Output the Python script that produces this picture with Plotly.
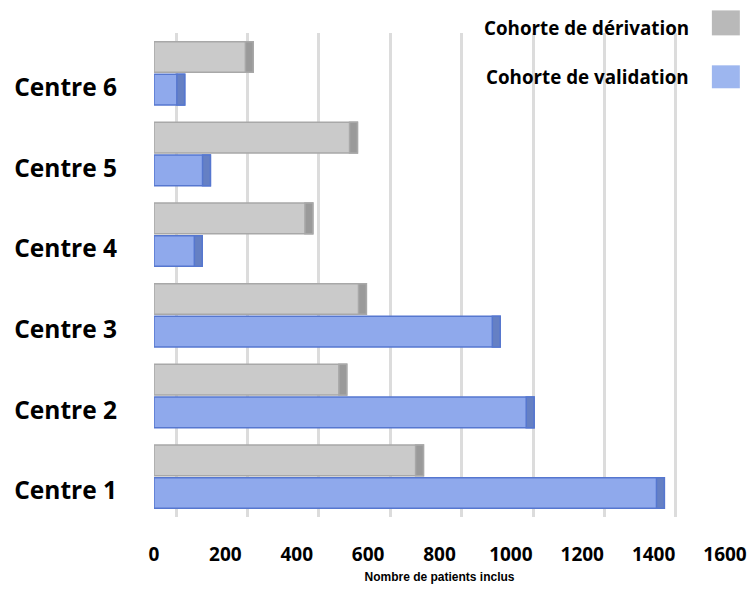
import plotly.graph_objects as go

categories = ["Centre 1", "Centre 2", "Centre 3", "Centre 4", "Centre 5", "Centre 6"]
derivation = [755, 540, 595, 445, 570, 278]
validation = [1430, 1065, 970, 135, 158, 86]
series_names = ["Cohorte de dérivation", "Cohorte de validation"]
x_ticks = [0, 200, 400, 600, 800, 1000, 1200, 1400, 1600]

GRAY = "#cacaca"
GRAY_LINE = "#a8a8a8"
GRAY_CAP = "#9a9a9a"
BLUE = "#8fa9ec"
BLUE_LINE = "#5677cf"
BLUE_CAP = "#6580c4"
CAP = 22  # width of the darker cylinder end, in data units

fig = go.Figure()
# validation first -> drawn at the bottom of each group
fig.add_trace(go.Bar(
    y=categories, x=validation, orientation="h", name=series_names[1],
    marker=dict(color=BLUE, line=dict(color=BLUE_LINE, width=1.5)),
    offsetgroup="v", showlegend=False,
))
fig.add_trace(go.Bar(
    y=categories, x=derivation, orientation="h", name=series_names[0],
    marker=dict(color=GRAY, line=dict(color=GRAY_LINE, width=1.5)),
    offsetgroup="d", showlegend=False,
))
# darker end caps of the cylinders (same slots as the bars)
fig.add_trace(go.Bar(
    y=categories, x=[CAP] * len(validation), base=[v - CAP for v in validation],
    orientation="h", offsetgroup="v", showlegend=False, hoverinfo="skip",
    marker=dict(color=BLUE_CAP, line=dict(color=BLUE_LINE, width=1.5)),
))
fig.add_trace(go.Bar(
    y=categories, x=[CAP] * len(derivation), base=[v - CAP for v in derivation],
    orientation="h", offsetgroup="d", showlegend=False, hoverinfo="skip",
    marker=dict(color=GRAY_CAP, line=dict(color=GRAY_LINE, width=1.5)),
))
# empty trace that carries the back-wall grid axis
fig.add_trace(go.Scatter(x=[], y=[], xaxis="x2", showlegend=False, hoverinfo="skip"))

fig.update_layout(
    width=752, height=589,
    margin=dict(l=154, r=27, t=33, b=72),
    paper_bgcolor="white", plot_bgcolor="white",
    barmode="group",
    bargap=0.19, bargroupgap=0.06,
    font=dict(family="Open Sans", color="black"),
    xaxis=dict(
        range=[0, 1600], tickvals=x_ticks, ticktext=[str(v) for v in x_ticks],
        showgrid=False, zeroline=False, showline=False, automargin=False,
        tickfont=dict(family="Open Sans", size=19, color="black", weight="bold"),
        ticklabelstandoff=24,
        title=dict(text="<b>Nombre de patients inclus</b>",
                   font=dict(family="Liberation Sans", size=12, color="black"),
                   standoff=6),
    ),
    xaxis2=dict(
        overlaying="x", range=[-62, 1538], tickvals=x_ticks,
        showgrid=True, gridcolor="#dcdcdc", gridwidth=3,
        showticklabels=False, zeroline=False, showline=False,
        layer="below traces", automargin=False,
    ),
    yaxis=dict(
        categoryorder="array", categoryarray=categories,
        showgrid=False, zeroline=False, showline=False, automargin=False,
        tickfont=dict(family="Open Sans", size=24.5, color="black", weight="bold"),
        ticklabelstandoff=36, ticklabelshift=14,
    ),
)

# legend drawn as text followed by a colour swatch on the right
legend_text_y = [1.0095, 0.9087]
legend_box_y = [(0.9951, 1.0467), (0.8858, 0.9332)]
legend_colors = ["#b9b9b9", "#9db6ef"]
for name, ty, (b0, b1), col in zip(series_names, legend_text_y, legend_box_y, legend_colors):
    fig.add_annotation(
        xref="paper", yref="paper", x=0.940, y=ty, xanchor="right", yanchor="middle",
        text=f"<b>{name}</b>", showarrow=False,
        font=dict(family="Open Sans", size=18.8, color="black"),
    )
    fig.add_shape(
        type="rect", xref="paper", yref="paper",
        x0=0.977, x1=1.026, y0=b0, y1=b1,
        fillcolor=col, line=dict(width=0),
    )

fig.write_html(
    "out.html",
    config={"displayModeBar": False},
    post_script="document.body.style.margin='0';document.body.style.overflow='hidden';",
)
